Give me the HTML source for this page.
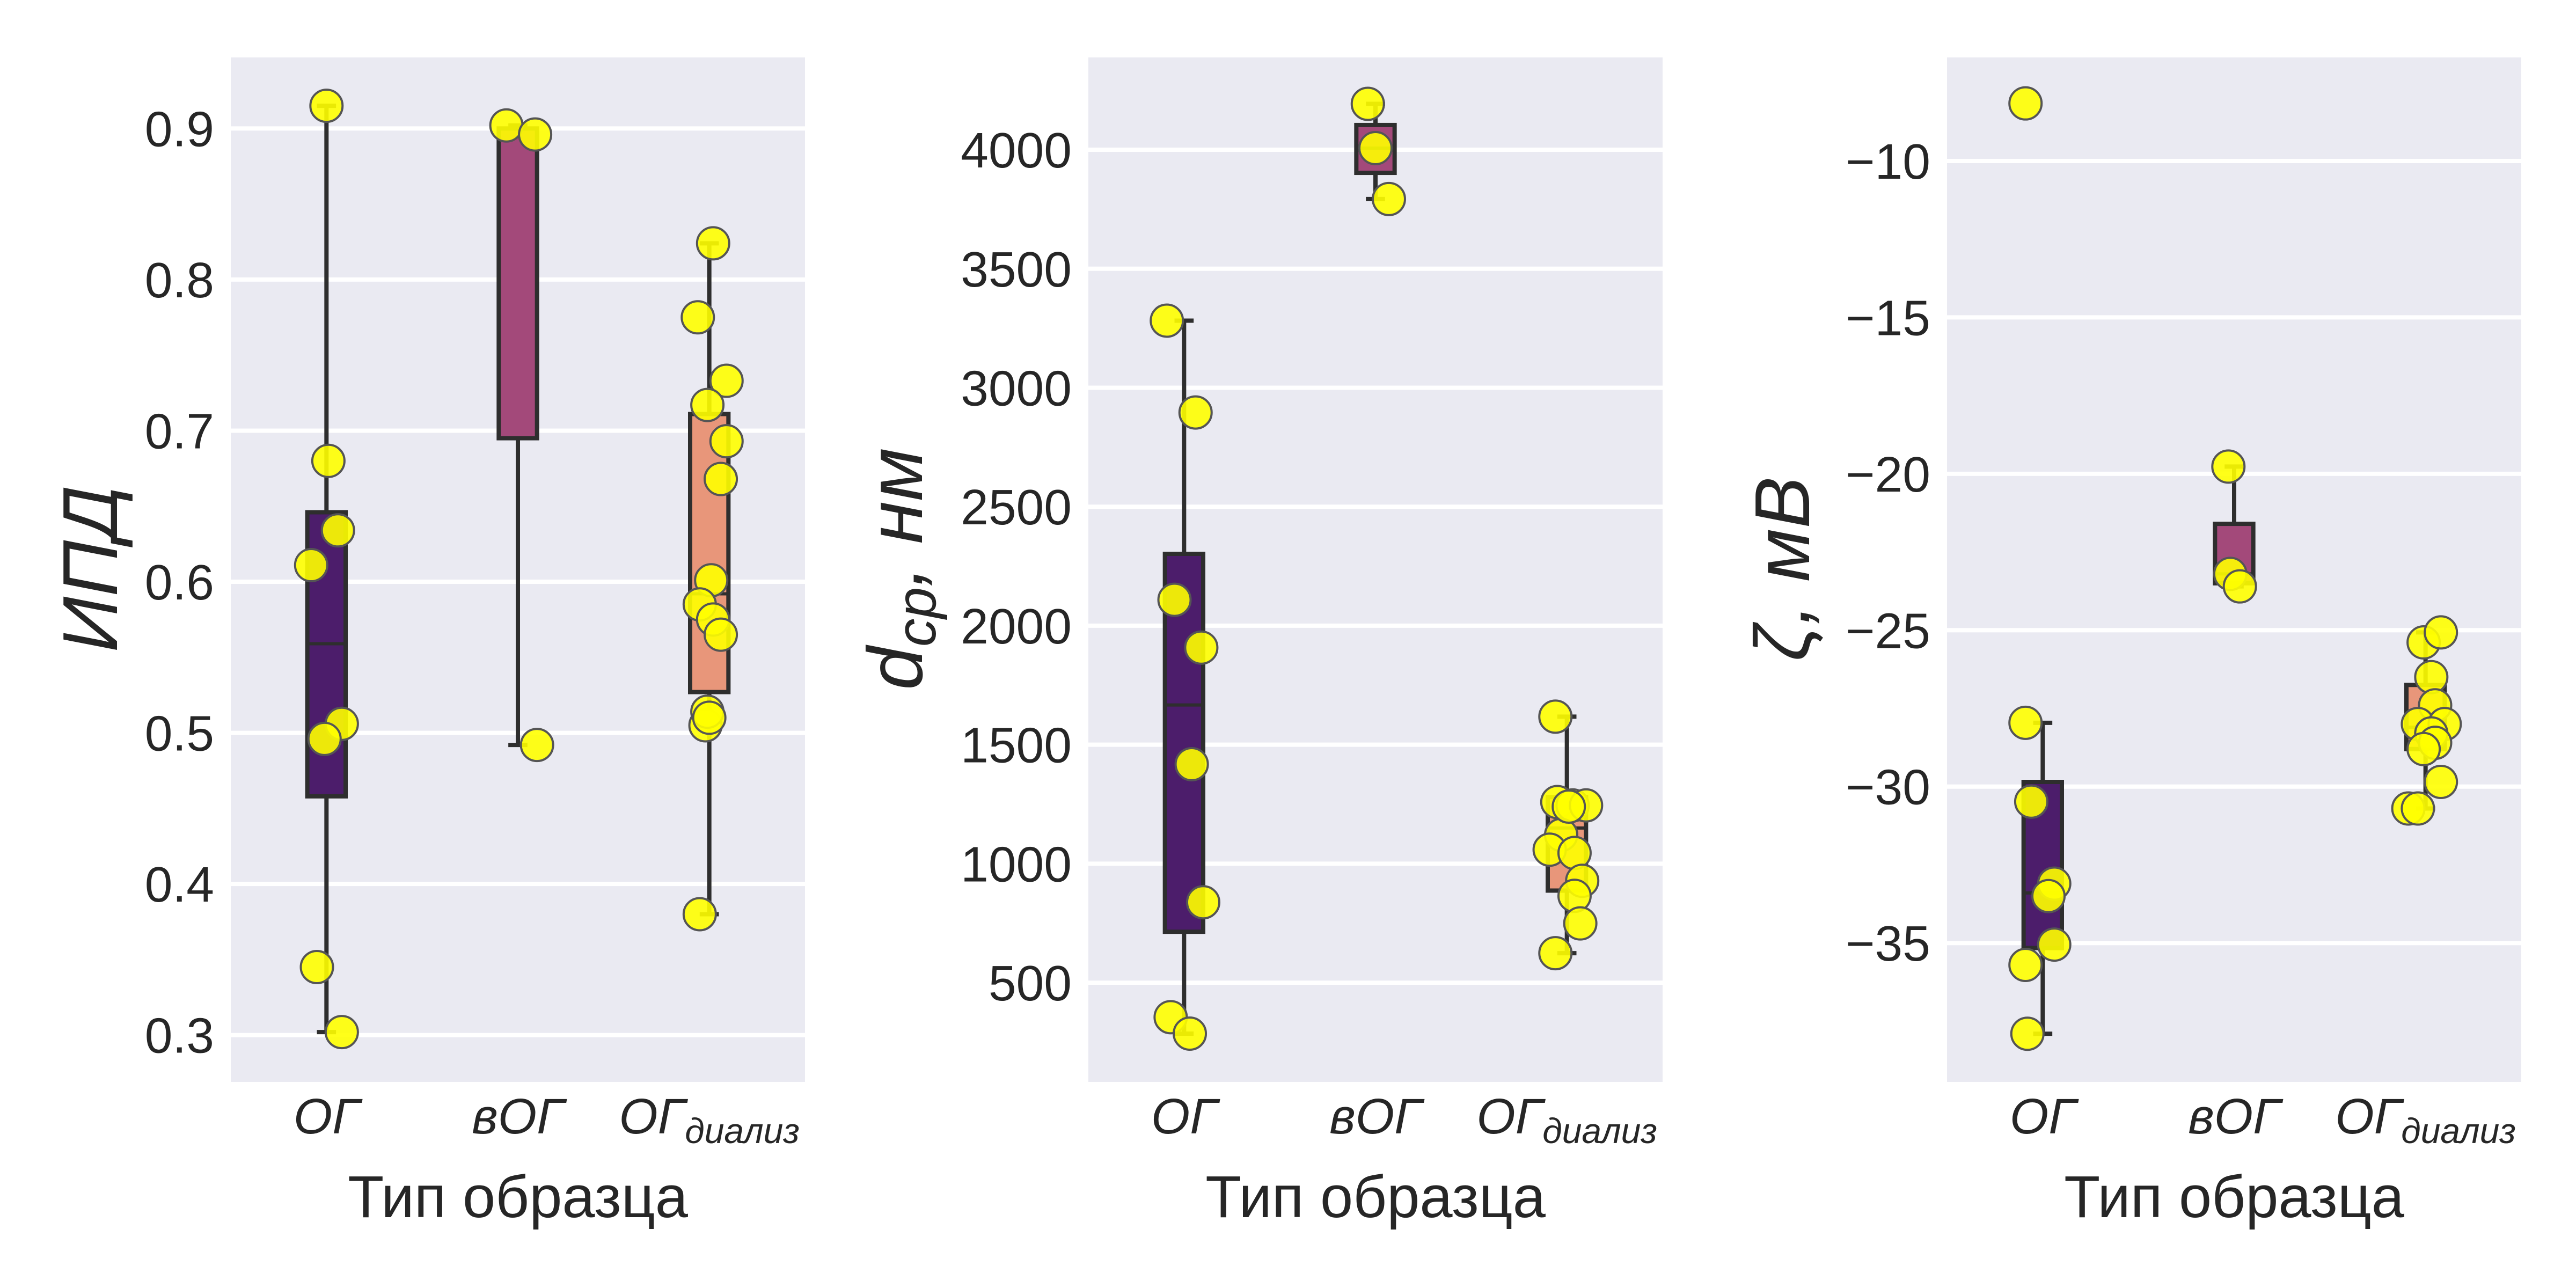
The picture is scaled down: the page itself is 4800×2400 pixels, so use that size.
<!DOCTYPE html>
<html><head><meta charset="utf-8"><style>
html,body{margin:0;padding:0;background:#fff;}
svg{display:block;}
text{font-family:"Liberation Sans",sans-serif;fill:#262626;}
</style></head><body>
<svg id="fig" width="4800" height="2400" viewBox="0 0 4800 2400" xmlns="http://www.w3.org/2000/svg"></svg>
<script>
const categories = ["ОГ","вОГ","ОГдиализ"];
const boxColors = ["#4c1d6b","#a3497a","#e8967a"];
// Panel 1: ИПД
const p1Ticks = [0.3,0.4,0.5,0.6,0.7,0.8,0.9];
const p1Box = [[0.302,0.458,0.559,0.646,0.915],[0.492,0.695,0.90,0.90,0.902],[0.38,0.527,0.592,0.711,0.824]];
const p1Vals = [[0.915,0.68,0.634,0.611,0.506,0.496,0.345,0.302],[0.902,0.896,0.492],[0.824,0.775,0.733,0.717,0.693,0.668,0.601,0.585,0.575,0.565,0.505,0.514,0.510,0.38]];
const p1Jit = [[0,0.01,0.06,-0.08,0.08,-0.01,-0.05,0.08],[-0.06,0.09,0.1],[0.02,-0.06,0.09,-0.01,0.09,0.06,0.01,-0.05,0.02,0.06,-0.02,-0.01,0,-0.05]];
// Panel 2: d_cp
const p2Ticks = [500,1000,1500,2000,2500,3000,3500,4000];
const p2Box = [[286,714,1667,2302,3282],[3793,3903,4007,4104,4193],[624,887,1150,1280,1618]];
const p2Vals = [[3282,2896,2109,1908,1418,838,355,286],[4193,4007,3793],[1618,1259,1245,1245,1121,1059,1045,928,865,749,624,1240]];
const p2Jit = [[-0.09,0.06,-0.05,0.09,0.04,0.1,-0.07,0.03],[-0.04,0,0.07],[-0.06,-0.05,0.03,0.1,-0.03,-0.09,0.04,0.08,0.04,0.07,-0.06,0.01]];
// Panel 3: zeta
const p3Ticks = [-35,-30,-25,-20,-15,-10];
const p3Box = [[-37.9,-35.16,-33.4,-29.85,-27.96],[-23.6,-23.5,-23.2,-21.6,-19.77],[-30.7,-28.8,-28.1,-26.75,-25.07]];
const p3Vals = [[-8.16,-27.96,-30.48,-33.1,-33.5,-35.05,-35.7,-37.9],[-19.77,-23.2,-23.6],[-25.39,-25.07,-26.5,-27.4,-28.0,-28.0,-28.3,-28.6,-28.8,-29.85,-30.7,-30.7]];
const p3Jit = [[-0.09,-0.09,-0.06,0.06,0.03,0.06,-0.09,-0.08],[-0.03,-0.02,0.03],[-0.01,0.08,0.03,0.05,-0.04,0.1,0.03,0.05,-0.01,0.08,-0.09,-0.04]];

const NS="http://www.w3.org/2000/svg";
const svg=document.getElementById('fig');
function mk(tag,attrs,parent){const e=document.createElementNS(NS,tag);for(const k in attrs)e.setAttribute(k,attrs[k]);(parent||svg).appendChild(e);return e;}

const TOP=107,BOT=2016;
const panels=[
 {x0:430,x1:1500,ymin:0.269,ymax:0.947,ticks:p1Ticks,box:p1Box,vals:p1Vals,jit:p1Jit,fmt:v=>v.toFixed(1),ylab:"ИПД",ylx:168,name:"ipd"},
 {x0:2028,x1:3098,ymin:83,ymax:4388,ticks:p2Ticks,box:p2Box,vals:p2Vals,jit:p2Jit,fmt:v=>String(v),ylab:"dcp",ylx:1668,name:"diameter"},
 {x0:3628,x1:4698,ymin:-39.44,ymax:-6.69,ticks:p3Ticks,box:p3Box,vals:p3Vals,jit:p3Jit,fmt:v=>"\u2212"+Math.abs(v),ylab:"zeta",ylx:3321,name:"zeta"}
];

panels.forEach((P,pi)=>{
  const g=mk('g',{});
  
  
  const yS=v=>BOT-(v-P.ymin)/(P.ymax-P.ymin)*(BOT-TOP);
  const sp=(P.x1-P.x0)/3;
  const xS=i=>P.x0+sp*(i+0.5);
  const bg=mk('rect',{x:P.x0,y:TOP,width:P.x1-P.x0,height:BOT-TOP,fill:'#eaeaf2'},g);
  
  
  P.ticks.forEach(t=>{
    const y=yS(t);
    const gl=mk('line',{x1:P.x0,x2:P.x1,y1:y,y2:y,stroke:'#fff','stroke-width':8},g);
    
    
    const tl=mk('text',{x:P.x0-31,y:y+33,'text-anchor':'end','font-size':93},g);
    tl.textContent=P.fmt(t);
    
    
  });
  P.box.forEach((b,i)=>{
    const cx=xS(i),hw=sp*0.1;
    const bx=mk('g',{},g);
    
    
    mk('line',{x1:cx,x2:cx,y1:yS(b[0]),y2:yS(b[1]),stroke:'#2e2e2e','stroke-width':8},bx);
    mk('line',{x1:cx,x2:cx,y1:yS(b[3]),y2:yS(b[4]),stroke:'#2e2e2e','stroke-width':8},bx);
    mk('line',{x1:cx-hw/2,x2:cx+hw/2,y1:yS(b[0]),y2:yS(b[0]),stroke:'#2e2e2e','stroke-width':8},bx);
    mk('line',{x1:cx-hw/2,x2:cx+hw/2,y1:yS(b[4]),y2:yS(b[4]),stroke:'#2e2e2e','stroke-width':8},bx);
    mk('rect',{x:cx-hw,y:yS(b[3]),width:2*hw,height:yS(b[1])-yS(b[3]),fill:boxColors[i],stroke:'#2e2e2e','stroke-width':8},bx);
    mk('line',{x1:cx-hw,x2:cx+hw,y1:yS(b[2]),y2:yS(b[2]),stroke:'#2e2e2e','stroke-width':6},bx);
  });
  P.vals.forEach((arr,i)=>{
    arr.forEach((v,j)=>{
      const c=mk('circle',{cx:xS(i)+P.jit[i][j]*sp,cy:yS(v),r:30,fill:'#ffff00','fill-opacity':0.9,stroke:'#555','stroke-width':4},g);
      
      
    });
  });
  categories.forEach((c,i)=>{
    const t=mk('text',{x:xS(i),y:2112,'text-anchor':'middle','font-size':93,'font-style':'italic'},g);
    if(c==="ОГдиализ"){t.innerHTML='ОГ<tspan font-size="66" dy="18">диализ</tspan>';}
    else t.textContent=c;
    
    
  });
  const xl=mk('text',{x:(P.x0+P.x1)/2,y:2268,'text-anchor':'middle','font-size':110},g);
  xl.textContent='Тип образца';
  
  
  const yl=mk('text',{transform:`translate(${P.ylx+50},1060) rotate(-90)`,'text-anchor':'middle','font-size':145,'font-style':'italic'},g);
  if(P.ylab==="dcp") yl.innerHTML='d<tspan font-size="105" dy="25">cp</tspan><tspan dy="-25">, нм</tspan>';
  else if(P.ylab==="zeta") yl.textContent='ζ, мВ';
  else yl.textContent=P.ylab;
  
  
});
</script>
</body></html>
